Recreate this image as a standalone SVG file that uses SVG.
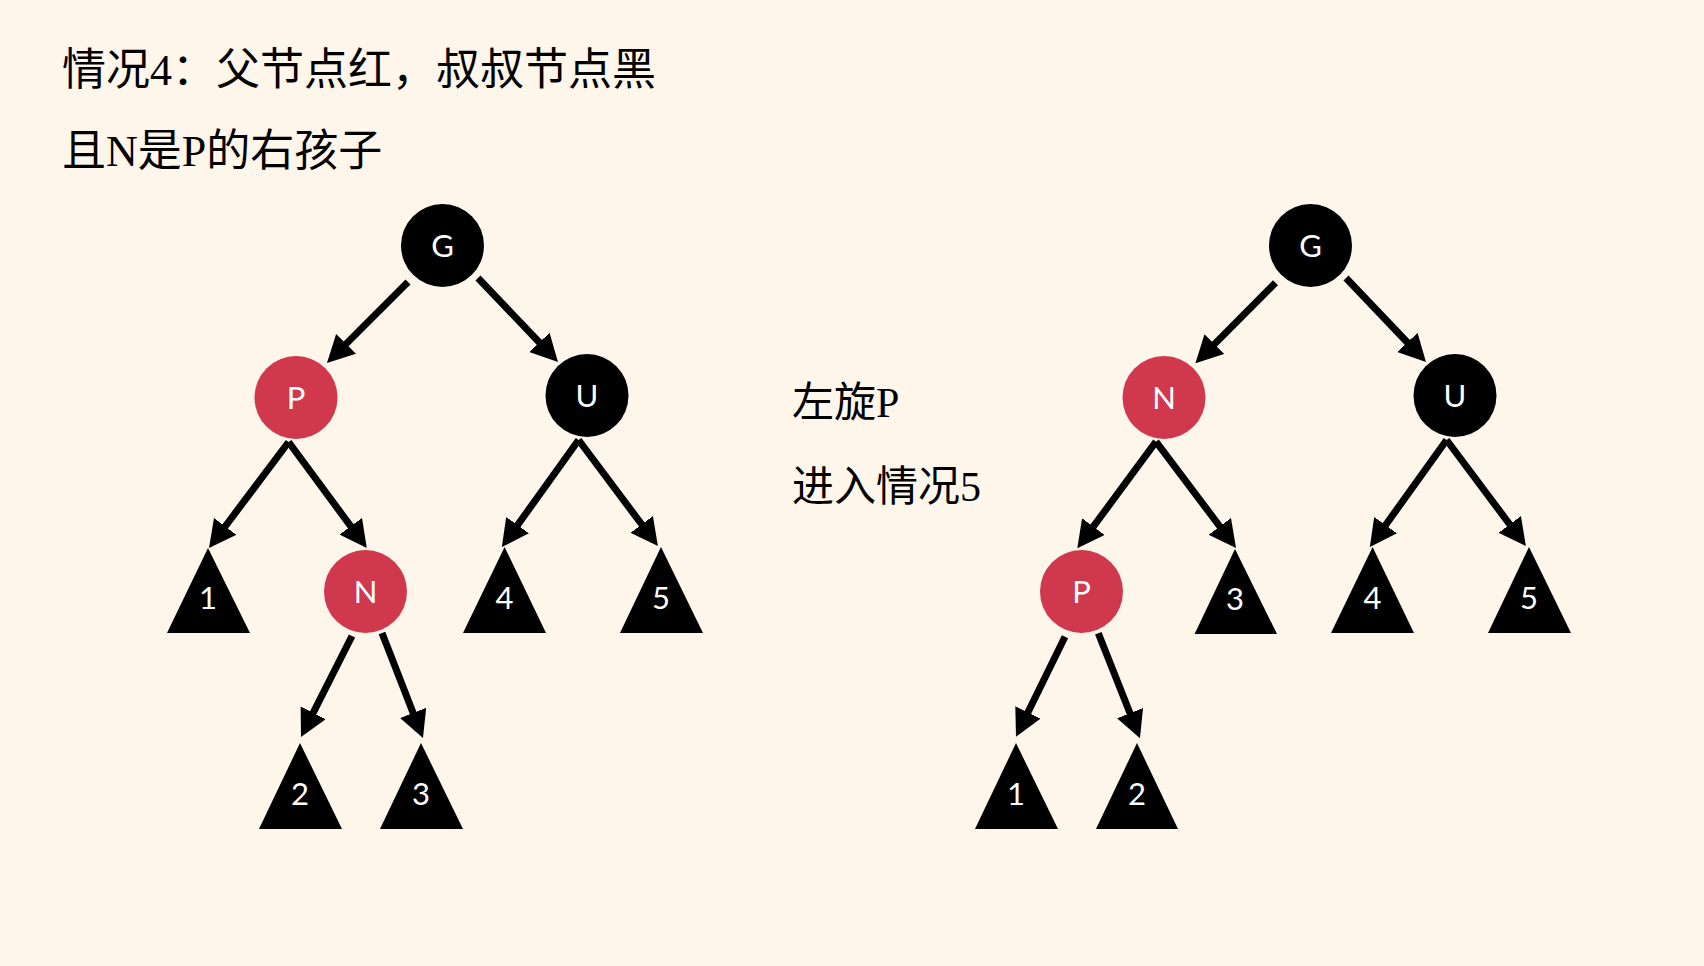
<svg xmlns="http://www.w3.org/2000/svg" width="1704" height="966" viewBox="0 0 1704 966">
<style>
.bg{fill:#FEF6EA}
.cjk{font-family:"Liberation Serif","Noto Sans CJK SC",serif;fill:#000}
.blk{fill:#000}
.red{fill:#D0384D}
.lbl{font-family:Lato,"Open Sans",sans-serif;font-size:31px;fill:#fff;text-anchor:middle}
.edge{stroke:#000;stroke-width:7;fill:none;marker-end:url(#ah)}
</style>
<defs>
<marker id="ah" markerUnits="userSpaceOnUse" markerWidth="28" markerHeight="29" refX="7" refY="14" orient="auto" viewBox="0 0 28 29">
<path d="M0,0 L27,14 L0,28 z" fill="#000"/>
</marker>
</defs>
<rect class="bg" x="0" y="0" width="1704" height="966"/>
<g id="title">
<text class="cjk" x="62" y="85" font-size="44">情况4：父节点红，叔叔节点黑</text>
<text class="cjk" x="62" y="166" font-size="44">且N是P的右孩子</text>
</g>
<g id="note">
<text class="cjk" x="792" y="417" font-size="42">左旋P</text>
<text class="cjk" x="792" y="501" font-size="42">进入情况5</text>
</g>
<g id="connectors">
<line class="edge" x1="408" y1="282" x2="341.1" y2="348.9"/>
<line class="edge" x1="478" y1="278" x2="544.2" y2="347.5"/>
<line class="edge" x1="288.6" y1="442" x2="221" y2="532"/>
<line class="edge" x1="288.6" y1="442" x2="354.9" y2="531.9"/>
<line class="edge" x1="578.6" y1="440" x2="513.5" y2="530.8"/>
<line class="edge" x1="578.6" y1="440" x2="645.9" y2="530"/>
<line class="edge" x1="352" y1="636" x2="310" y2="719.1"/>
<line class="edge" x1="382" y1="633" x2="415.7" y2="719.4"/>
<line class="edge" x1="1275.5" y1="282.7" x2="1209.5" y2="349.1"/>
<line class="edge" x1="1346" y1="278" x2="1412.2" y2="347.5"/>
<line class="edge" x1="1156" y1="441.7" x2="1089.2" y2="532.2"/>
<line class="edge" x1="1156" y1="441.7" x2="1224" y2="532"/>
<line class="edge" x1="1446.6" y1="440" x2="1381.5" y2="530.8"/>
<line class="edge" x1="1446.6" y1="440" x2="1513.9" y2="530"/>
<line class="edge" x1="1065" y1="636.7" x2="1024.8" y2="718.7"/>
<line class="edge" x1="1098.3" y1="633.3" x2="1132.6" y2="719.7"/>
</g>
<g id="L-G"><circle class="blk" cx="442.5" cy="245.5" r="41.5"/><text class="lbl" x="442.5" y="256.5">G</text></g>
<g id="L-P"><circle class="red" cx="296" cy="397.5" r="41.5"/><text class="lbl" x="296" y="408.5">P</text></g>
<g id="L-U"><circle class="blk" cx="587" cy="395.5" r="41.5"/><text class="lbl" x="587" y="406.5">U</text></g>
<g id="L-N"><circle class="red" cx="365.5" cy="591.5" r="41.5"/><text class="lbl" x="365.5" y="602.5">N</text></g>
<g id="L-T1"><polygon class="blk" points="208,548 167,633 250,633"/><text class="lbl" x="208" y="609">1</text></g>
<g id="L-T4"><polygon class="blk" points="504.6,547 463,633 546,633"/><text class="lbl" x="504.6" y="609">4</text></g>
<g id="L-T5"><polygon class="blk" points="661,547 620,633 703,633"/><text class="lbl" x="661" y="609">5</text></g>
<g id="L-T2"><polygon class="blk" points="300,743 259,829 342,829"/><text class="lbl" x="300" y="805">2</text></g>
<g id="L-T3"><polygon class="blk" points="421,743 380,829 463,829"/><text class="lbl" x="421" y="805">3</text></g>
<g id="R-G"><circle class="blk" cx="1310.5" cy="245.5" r="41.5"/><text class="lbl" x="1310.5" y="256.5">G</text></g>
<g id="R-N"><circle class="red" cx="1164" cy="397.5" r="41.5"/><text class="lbl" x="1164" y="408.5">N</text></g>
<g id="R-U"><circle class="blk" cx="1455" cy="395.5" r="41.5"/><text class="lbl" x="1455" y="406.5">U</text></g>
<g id="R-P"><circle class="red" cx="1081.5" cy="591.5" r="41.5"/><text class="lbl" x="1081.5" y="602.5">P</text></g>
<g id="R-T3"><polygon class="blk" points="1235,549 1194.6,634 1277,634"/><text class="lbl" x="1235" y="610">3</text></g>
<g id="R-T4"><polygon class="blk" points="1372.6,547 1331,633 1414,633"/><text class="lbl" x="1372.6" y="609">4</text></g>
<g id="R-T5"><polygon class="blk" points="1529,547 1488,633 1571,633"/><text class="lbl" x="1529" y="609">5</text></g>
<g id="R-T1"><polygon class="blk" points="1016,743 975,829 1058,829"/><text class="lbl" x="1016" y="805">1</text></g>
<g id="R-T2"><polygon class="blk" points="1137,743 1096,829 1178,829"/><text class="lbl" x="1137" y="805">2</text></g>
</svg>
